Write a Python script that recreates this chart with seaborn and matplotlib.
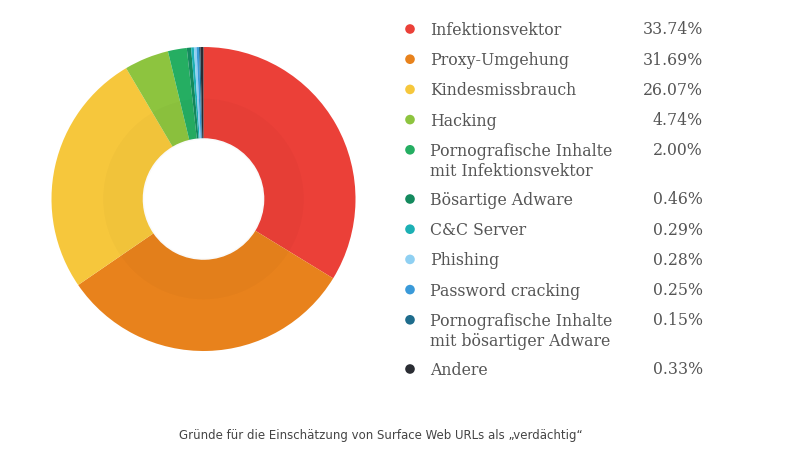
import matplotlib
matplotlib.use("Agg")
from matplotlib import pyplot as plt
from matplotlib.patches import Wedge
import seaborn as sns

# data
categories = [
    "Infektionsvektor",
    "Proxy-Umgehung",
    "Kindesmissbrauch",
    "Hacking",
    "Pornografische Inhalte\nmit Infektionsvektor",
    "Bösartige Adware",
    "C&C Server",
    "Phishing",
    "Password cracking",
    "Pornografische Inhalte\nmit bösartiger Adware",
    "Andere",
]
shares = [33.74, 31.69, 26.07, 4.74, 2.00, 0.46, 0.29, 0.28, 0.25, 0.15, 0.33]
colors = ["#EB4038", "#E8821C", "#F6C73C", "#8DC43F", "#25AE62", "#148A5E",
          "#1CB0B4", "#8FD0F2", "#3A9AD9", "#1E6C8C", "#2A2D33"]
caption = "Gründe für die Einschätzung von Surface Web URLs als \u201everdächtig\u201c"

sns.set_theme(style="white")
plt.rcParams['font.family'] = ['DejaVu Sans']

my_dpi = 100
W, H = 800, 452
fig = plt.figure(figsize=(W / my_dpi, H / my_dpi), dpi=my_dpi)
fig.patch.set_facecolor("white")

# donut
cx, cy, r = 203.5, 200, 152
ax = fig.add_axes([(cx - r) / W, (H - cy - r) / H, 2 * r / W, 2 * r / H])
ax.pie(shares, colors=colors, startangle=90, counterclock=False, radius=1,
       wedgeprops=dict(width=0.6, edgecolor="none", linewidth=0))
# subtle inner shading ring
ax.add_patch(Wedge((0, 0), 0.66, 0, 360, width=0.27, facecolor="black",
                   alpha=0.02, edgecolor="none"))
ax.set_xlim(-1, 1)
ax.set_ylim(-1, 1)
ax.set_aspect("equal")
ax.axis("off")

# legend drawn in pixel space
lax = fig.add_axes([0, 0, 1, 1])
lax.set_xlim(0, W)
lax.set_ylim(H, 0)
lax.axis("off")
fs = 11.3
y = 30
for name, val, col in zip(categories, shares, colors):
    lax.scatter([410], [y], s=48, color=col, edgecolor="none")
    lax.text(430, y - 8, name, fontsize=fs, family="DejaVu Serif",
             color="#555555", va="top", ha="left", linespacing=1.22)
    lax.text(703, y, f"{val:.2f}%", fontsize=fs, family="DejaVu Serif",
             color="#555555", va="center", ha="right")
    y += 30.2 + 19 * name.count("\n")

lax.text(381, 436, caption, fontsize=8.5, color="#444444", ha="center",
         va="center")

plt.savefig("out.png", dpi=my_dpi)
